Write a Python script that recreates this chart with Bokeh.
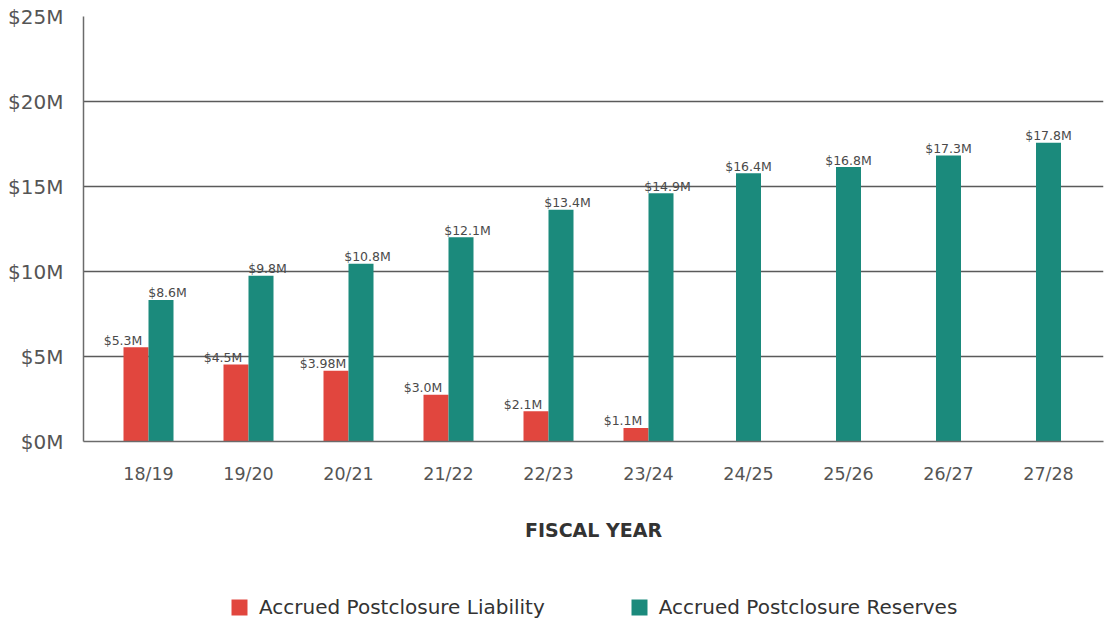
from bokeh.plotting import figure
from bokeh.layouts import column
from bokeh.models import ColumnDataSource, FixedTicker, Legend, LegendItem, Range1d
from bokeh.core.properties import value
from bokeh.embed import file_html
from bokeh.resources import INLINE

# ---- data ----
categories = ["18/19", "19/20", "20/21", "21/22", "22/23", "23/24", "24/25", "25/26", "26/27", "27/28"]
liability = [5.55, 4.53, 4.16, 2.75, 1.78, 0.80, None, None, None, None]
liability_labels = ["$5.3M", "$4.5M", "$3.98M", "$3.0M", "$2.1M", "$1.1M", None, None, None, None]
reserves = [8.33, 9.75, 10.45, 12.02, 13.63, 14.60, 15.78, 16.14, 16.82, 17.57]
reserves_labels = ["$8.6M", "$9.8M", "$10.8M", "$12.1M", "$13.4M", "$14.9M", "$16.4M", "$16.8M", "$17.3M", "$17.8M"]
y_ticks = [0, 5, 10, 15, 20, 25]
y_tick_labels = ["$0M", "$5M", "$10M", "$15M", "$20M", "$25M"]
series_names = ["Accrued Postclosure Liability", "Accrued Postclosure Reserves"]

RED = "#E1463E"
TEAL = "#1B8A7C"
FONT = "DejaVu Sans"
bar_w = 0.25

xs = list(range(len(categories)))
red = dict(x=[], top=[], label=[], off=[])
teal = dict(x=[], top=[], label=[], off=[])
for i in xs:
    if liability[i] is not None:
        red["x"].append(i - bar_w / 2)
        red["top"].append(liability[i])
        red["label"].append(liability_labels[i])
        red["off"].append(-13)
        teal["x"].append(i + bar_w / 2)
        teal["off"].append(6.5)
    else:
        teal["x"].append(i)
        teal["off"].append(0)
    teal["top"].append(reserves[i])
    teal["label"].append(reserves_labels[i])

src_red = ColumnDataSource(red)
src_teal = ColumnDataSource(teal)

p = figure(frame_width=1020, frame_height=425, x_range=Range1d(-0.65, 9.55), y_range=Range1d(0, 25),
           output_backend="svg", toolbar_location=None,
           min_border_left=83, min_border_right=3, min_border_top=16, min_border_bottom=149)
p.outline_line_color = None
p.background_fill_color = "white"
p.border_fill_color = "white"
p.xgrid.visible = False
p.ygrid.grid_line_color = "#5a5a5a"
p.ygrid.grid_line_width = 1.3

p.yaxis.ticker = FixedTicker(ticks=y_ticks)
p.yaxis.major_label_overrides = dict(zip(y_ticks, y_tick_labels))
p.xaxis.ticker = FixedTicker(ticks=xs)
p.xaxis.major_label_overrides = dict(zip(xs, categories))
for ax in (p.xaxis, p.yaxis):
    ax.major_tick_out = 0
    ax.major_tick_in = 0
    ax.minor_tick_out = 0
    ax.minor_tick_in = 0
    ax.axis_line_color = "#6b6b6b"
    ax.axis_line_width = 1.5
    ax.major_label_text_font = FONT
    ax.major_label_text_color = "#555555"

p.yaxis.major_label_text_font_size = "20px"
p.yaxis.major_label_standoff = 20
p.xaxis.major_label_text_font_size = "17.5px"
p.xaxis.major_label_standoff = 22
p.xaxis.axis_label = "FISCAL YEAR"
p.xaxis.axis_label_text_font = FONT
p.xaxis.axis_label_text_font_style = "bold"
p.xaxis.axis_label_text_font_size = "19px"
p.xaxis.axis_label_text_color = "#333333"
p.xaxis.axis_label_standoff = 32

p.vbar(x="x", top="top", width=bar_w, bottom=0, source=src_red,
       fill_color=RED, line_color=None)
p.vbar(x="x", top="top", width=bar_w, bottom=0, source=src_teal,
       fill_color=TEAL, line_color=None)

for src in (src_red, src_teal):
    p.text(x="x", y="top", text="label", source=src, x_offset="off", y_offset=-7,
           text_align="center", text_baseline="alphabetic",
           text_font=value(FONT), text_font_size="12.5px", text_color="#4a4a4a")

# ---- legend strip below the chart ----
pl = figure(width=1106, height=32, x_range=Range1d(100, 101), y_range=Range1d(100, 101),
            output_backend="svg", toolbar_location=None,
            x_axis_location=None, y_axis_location=None,
            min_border_left=0, min_border_right=0, min_border_top=0, min_border_bottom=0)
pl.outline_line_color = None
pl.xgrid.visible = False
pl.ygrid.visible = False
lr_red = pl.vbar(x="x", top="top", width=bar_w, bottom=0, source=src_red,
                 fill_color=RED, line_color=None)
lr_teal = pl.vbar(x="x", top="top", width=bar_w, bottom=0, source=src_teal,
                  fill_color=TEAL, line_color=None)
legend = Legend(items=[LegendItem(label=series_names[0], renderers=[lr_red]),
                       LegendItem(label=series_names[1], renderers=[lr_teal])],
                location=(146, 3), orientation="horizontal",
                glyph_width=20, glyph_height=20, label_standoff=10, spacing=84,
                padding=0, margin=0, border_line_color=None, background_fill_alpha=0,
                label_text_font=FONT, label_text_font_size="20px", label_text_color="#333333")
pl.add_layout(legend, "center")

layout = column(p, pl, spacing=0)
open("out.html", "w").write(file_html(layout, INLINE))
